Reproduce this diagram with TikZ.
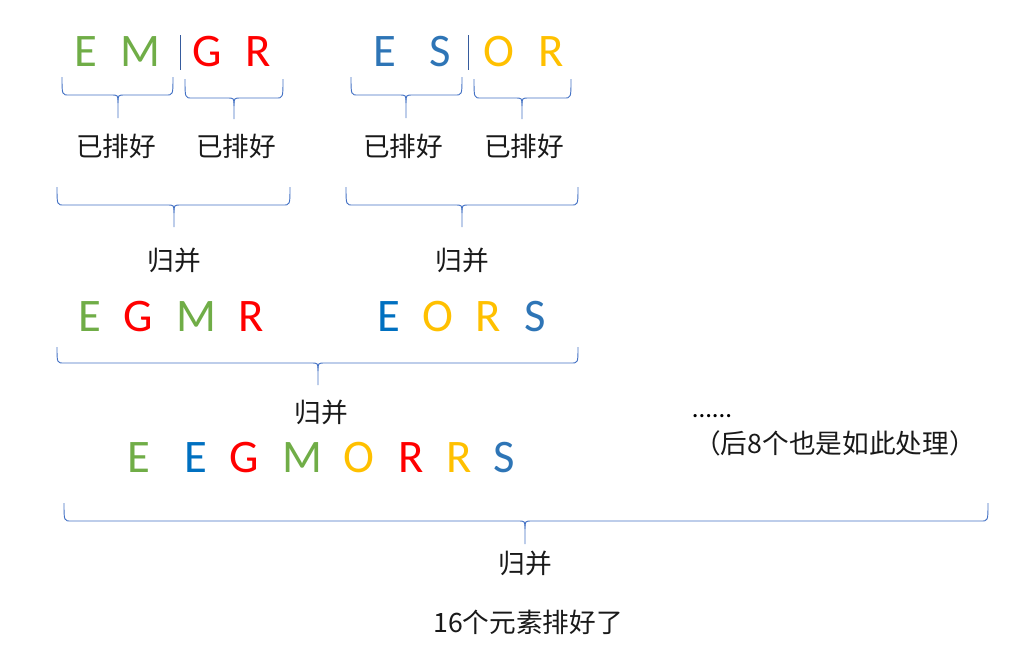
\documentclass[tikz,border=0pt]{standalone}
\usepackage{fontspec}
\setmainfont{Carlito}
\newfontfamily\cjk{Noto Sans CJK SC}
\usepackage{xcolor}
\usetikzlibrary{positioning}
\definecolor{LetGreen}{HTML}{70AD47}
\definecolor{LetRed}{HTML}{FF0000}
\definecolor{LetBlue}{HTML}{2E75B6}
\definecolor{LetDeepBlue}{HTML}{0070C0}
\definecolor{LetGold}{HTML}{FFC000}
\definecolor{BraceBlue}{HTML}{4472C4}
% curly brace opening downwards: x-left, x-tip, x-right, y-top, y-line, y-tip
\newcommand{\mergebrace}[6]{%
  \draw[brc] (#1,#4) .. controls (#1,#5) and (#1,#5) .. (#1+7,#5) -- (#2-7,#5)
    .. controls (#2,#5) and (#2,#5) .. (#2,#5+8) -- (#6);
  \draw[brc] (#2,#5+8) .. controls (#2,#5) and (#2,#5) .. (#2+7,#5) -- (#3-7,#5)
    .. controls (#3,#5) and (#3,#5) .. (#3,#4);}
\begin{document}
\begin{tikzpicture}[x=0.75pt,y=-0.75pt,
          every node/.style={inner sep=0pt},
          ltr/.style={font=\fontsize{35}{40}\selectfont},
          note/.style={font=\cjk\fontsize{20}{24}\selectfont,text=black!90},
          brc/.style={draw=BraceBlue,line width=0.7pt},
          sep/.style={draw=BraceBlue!80!black,line width=0.7pt}]
        \useasboundingbox (0,0) rectangle (1034,651);
        % runs of two
        \node[ltr,text=LetGreen] (r1a) at (86,52) {E};
        \node[ltr,text=LetGreen] (r1b) at (140,52) {M};
        \node[ltr,text=LetRed] (r1c) at (207,52) {G};
        \node[ltr,text=LetRed] (r1d) at (258,52) {R};
        \node[ltr,text=LetBlue] (r1e) at (385,52) {E};
        \node[ltr,text=LetBlue] (r1f) at (440,52) {S};
        \node[ltr,text=LetGold] (r1g) at (499,52) {O};
        \node[ltr,text=LetGold] (r1h) at (551,52) {R};
        \draw[sep] (180,35) -- (180,70);
        \draw[sep] (468,35) -- (468,70);
        \coordinate (t1a) at (118,118); \coordinate (t1b) at (234,119);
        \coordinate (t1c) at (406,118); \coordinate (t1d) at (522,119);
        \mergebrace{62}{118}{173}{77}{95}{t1a}
        \mergebrace{185}{234}{283}{79}{98}{t1b}
        \mergebrace{351}{406}{462}{77}{95}{t1c}
        \mergebrace{474}{522}{571}{79}{98}{t1d}
        \node[note] (s1) at (116,146) {已排好};
        \node[note] (s2) at (236,146) {已排好};
        \node[note] (s3) at (403,146) {已排好};
        \node[note] (s4) at (524,146) {已排好};
        % runs of four
        \coordinate (t2a) at (174,227); \coordinate (t2b) at (462,227);
        \mergebrace{57}{174}{290}{187}{205}{t2a}
        \mergebrace{346}{462}{578}{187}{205}{t2b}
        \node[note] (m1) at (174,260) {归并};
        \node[note] (m2) at (462,260) {归并};
        \node[ltr,text=LetGreen] (r2a) at (90,317) {E};
        \node[ltr,text=LetRed] (r2b) at (138,317) {G};
        \node[ltr,text=LetGreen] (r2c) at (196,317) {M};
        \node[ltr,text=LetRed] (r2d) at (251,317) {R};
        \node[ltr,text=LetDeepBlue] (r2e) at (389,317) {E};
        \node[ltr,text=LetGold] (r2f) at (438,317) {O};
        \node[ltr,text=LetGold] (r2g) at (488,317) {R};
        \node[ltr,text=LetBlue] (r2h) at (535,317) {S};
        % run of eight
        \coordinate (t3) at (318,385);
        \mergebrace{57}{318}{578}{347}{363}{t3}
        \node[note] (m3) at (321,412) {归并};
        \node[ltr,text=LetGreen] (r3a) at (139,458) {E};
        \node[ltr,text=LetDeepBlue] (r3b) at (196,458) {E};
        \node[ltr,text=LetRed] (r3c) at (244,458) {G};
        \node[ltr,text=LetGreen] (r3d) at (302,458) {M};
        \node[ltr,text=LetGold] (r3e) at (359,458) {O};
        \node[ltr,text=LetRed] (r3f) at (411,458) {R};
        \node[ltr,text=LetGold] (r3g) at (459,458) {R};
        \node[ltr,text=LetBlue] (r3h) at (504,458) {S};
        \node[font=\fontsize{20}{24}\selectfont] (dots) at (712,416) {......};
        \node[note] (rest) at (835,443) {（后8个也是如此处理）};
        % all sixteen
        \coordinate (t4) at (525,544);
        \mergebrace{64}{525}{988}{503}{521}{t4}
        \node[note] (m4) at (525,563) {归并};
        \node[note] (done) at (528,622) {16个元素排好了};
      \end{tikzpicture}
\end{document}
